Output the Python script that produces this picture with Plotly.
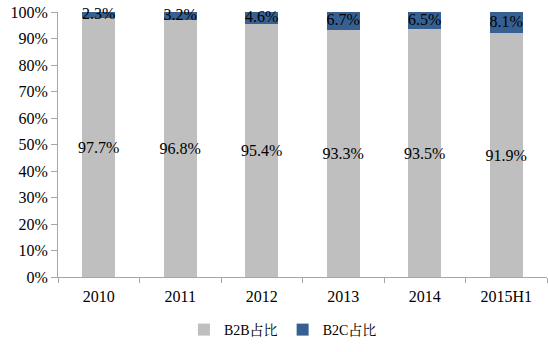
import plotly.graph_objects as go

categories = ["2010", "2011", "2012", "2013", "2014", "2015H1"]
b2b = [97.7, 96.8, 95.4, 93.3, 93.5, 91.9]
b2c = [2.3, 3.2, 4.6, 6.7, 6.5, 8.1]
yticks = [0, 10, 20, 30, 40, 50, 60, 70, 80, 90, 100]

FONT = "Liberation Serif, Times New Roman, Noto Serif CJK SC, Noto Sans CJK SC, serif"
GRAY = "#BFBFBF"
BLUE = "#376092"

fig = go.Figure()
fig.add_bar(x=categories, y=b2b, name="B2B占比", marker=dict(color=GRAY, line=dict(width=0)),
            text=[f"{v:.1f}%" for v in b2b], textposition="inside", insidetextanchor="middle",
            textangle=0, constraintext="none",
            textfont=dict(color="black", size=16, family=FONT), hoverinfo="skip")
fig.add_bar(x=categories, y=b2c, name="B2C占比", marker=dict(color=BLUE, line=dict(width=0)),
            hoverinfo="skip")
fig.add_scatter(x=categories, y=[100 - v / 2 for v in b2c], mode="text",
                text=[f"{v:.1f}%" for v in b2c], textposition="middle center",
                textfont=dict(color="black", size=16, family=FONT),
                showlegend=False, hoverinfo="skip", cliponaxis=False)

fig.update_layout(
    barmode="stack", bargap=0.595,
    width=548, height=352,
    margin=dict(l=58, r=1, t=12, b=75),
    plot_bgcolor="white", paper_bgcolor="white",
    font=dict(family=FONT, size=16, color="black"),
    showlegend=True,
    legend=dict(orientation="h", x=0.46, xanchor="center", yref="container",
                y=1 - 330 / 352, yanchor="middle",
                font=dict(size=14, family=FONT), itemwidth=30, traceorder="normal"),
    xaxis=dict(type="category", showline=True, linecolor="#A6A6A6", linewidth=1,
               ticks="outside", tickson="boundaries", ticklen=5, tickcolor="#A6A6A6",
               ticklabelstandoff=5,
               tickfont=dict(size=16, family=FONT), showgrid=False),
    yaxis=dict(range=[0, 100], tickvals=yticks, ticktext=[f"{v}%" for v in yticks],
               showline=True, linecolor="#A6A6A6", linewidth=1, ticks="outside",
               ticklen=6, tickcolor="#A6A6A6", showgrid=False, zeroline=False,
               tickfont=dict(size=16, family=FONT)),
)

fig.write_html("out.html")
